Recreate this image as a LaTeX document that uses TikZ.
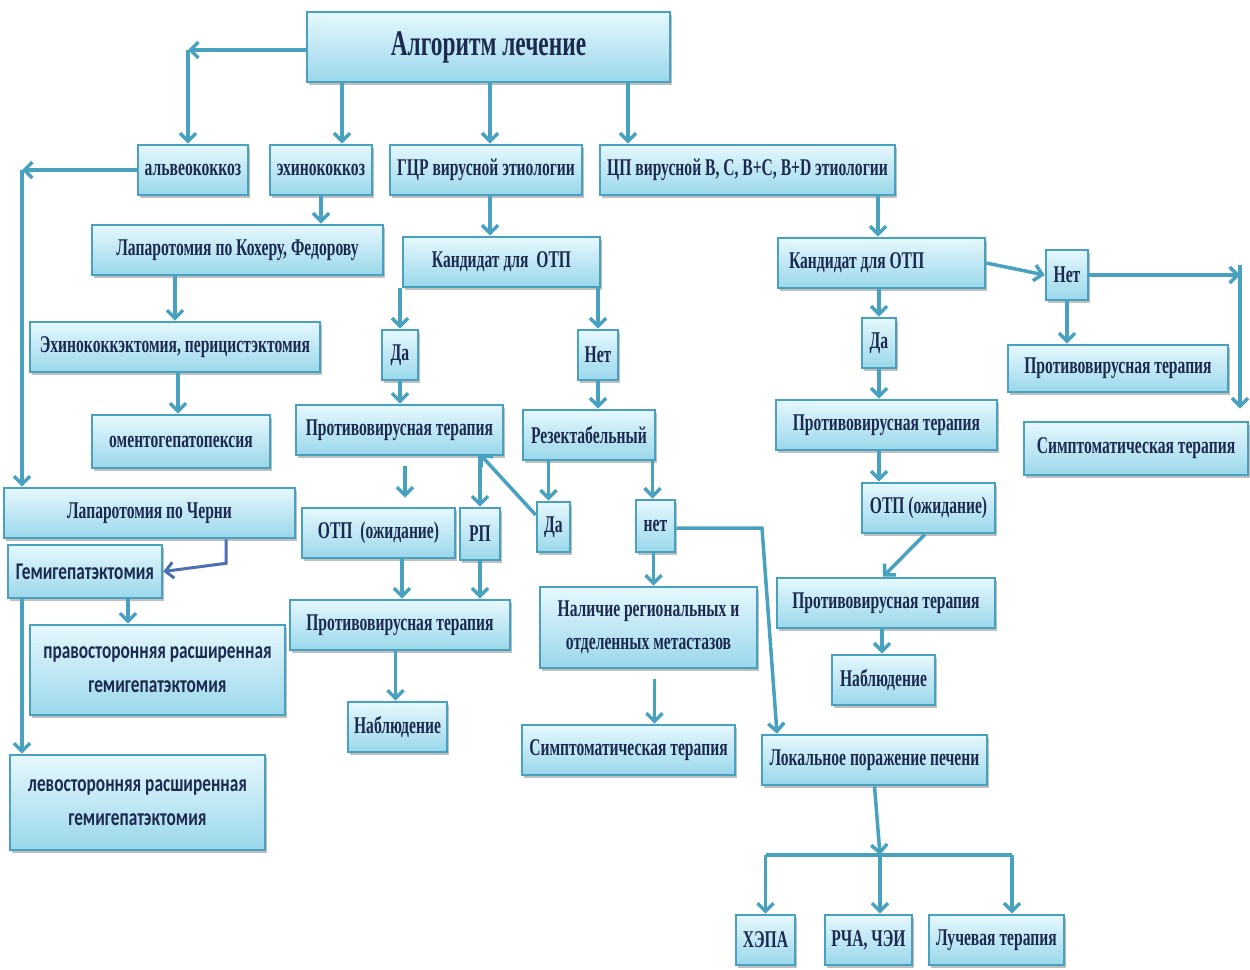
\documentclass[tikz,border=0pt]{standalone}
\usepackage{fontspec}
\setmainfont{Liberation Serif}
\newfontfamily\condserif[FakeStretch=0.65]{Liberation Serif}
\newfontfamily\condsans[FakeStretch=0.72]{Carlito}
\usetikzlibrary{arrows.meta,shadows,calc}
\definecolor{edgec}{HTML}{48A2BF}
\definecolor{filltop}{HTML}{E6F8FD}
\definecolor{fillbot}{HTML}{9AD7EB}
\definecolor{txtc}{HTML}{1C2A4F}
\definecolor{bluec}{HTML}{4C70B4}
\tikzset{
  box/.style={draw=edgec, line width=2.6pt, top color=filltop, bottom color=fillbot,
    drop shadow={shadow xshift=2pt, shadow yshift=-3pt, fill=black!55, opacity=0.45},
    text=txtc, font=\condserif\bfseries\fontsize{24}{33}\selectfont, inner sep=2pt, align=center},
  sbox/.style={box, font=\condsans\bfseries\fontsize{24}{34}\selectfont},
  arr/.style={draw=edgec, line width=3.5pt, -{Straight Barb[length=8pt,width=16pt]}},
  plain/.style={draw=edgec, line width=3.5pt},
  arrb/.style={arr, draw=bluec}
}
\begin{document}
\begin{tikzpicture}[x=1pt,y=-1pt]
\fill[white] (0,0) rectangle (1250,969);
\useasboundingbox (0,0) rectangle (1250,969);

% nodes
\node[box, minimum width=363pt, minimum height=70pt, font=\condserif\bfseries\fontsize{36}{40}\selectfont] (title) at (488.5,47) {Алгоритм лечение};
\node[box, minimum width=110pt, minimum height=50pt] (alv) at (193,170) {альвеококкоз};
\node[box, minimum width=102pt, minimum height=50pt] (ech) at (321,170) {эхинококкоз};
\node[box, minimum width=192pt, minimum height=50pt] (gcr) at (486,170) {ГЦР вирусной этиологии};
\node[box, minimum width=295pt, minimum height=50pt] (cp) at (747.5,170) {ЦП вирусной В, С, В+С, В+D этиологии};
\node[box, minimum width=291pt, minimum height=50pt] (koh) at (237.5,250) {Лапаротомия по Кохеру, Федорову};
\node[box, minimum width=197pt, minimum height=50pt] (kandL) at (501.5,262) {Кандидат для\ \ ОТП};
\node[box, minimum width=207pt, minimum height=50pt, text width=185pt, align=flush left, inner xsep=11pt] (kandR) at (881.5,263) {Кандидат для ОТП};
\node[box, minimum width=42pt, minimum height=50pt] (netR) at (1067,275) {Нет};
\node[box, minimum width=290pt, minimum height=50pt] (echek) at (175,347) {Эхинококкэктомия, перицистэктомия};
\node[box, minimum width=36pt, minimum height=50pt] (daL) at (400,355) {Да};
\node[box, minimum width=40pt, minimum height=50pt] (netL) at (598,355) {Нет};
\node[box, minimum width=34pt, minimum height=50pt] (daR) at (879,343) {Да};
\node[box, minimum width=220pt, minimum height=47pt] (pvtR1) at (1118,368.5) {Противовирусная терапия};
\node[box, minimum width=178pt, minimum height=53pt] (oment) at (181,441.5) {оментогепатопексия};
\node[box, minimum width=207pt, minimum height=50pt] (pvtL) at (399.5,430) {Противовирусная терапия};
\node[box, minimum width=132pt, minimum height=50pt] (rez) at (589,435) {Резектабельный};
\node[box, minimum width=221pt, minimum height=50pt] (pvtR2) at (886.5,425) {Противовирусная терапия};
\node[box, minimum width=224pt, minimum height=53pt] (symR) at (1136,448.5) {Симптоматическая терапия};
\node[box, minimum width=291pt, minimum height=50pt] (cherni) at (149.5,513) {Лапаротомия по Черни};
\node[sbox, minimum width=154pt, minimum height=53pt] (hemi) at (85,571.5) {Гемигепатэктомия};
\node[box, minimum width=153pt, minimum height=50pt] (otpL) at (378.5,533) {ОТП\ \ (ожидание)};
\node[box, minimum width=40pt, minimum height=52pt] (rp) at (480,534) {РП};
\node[box, minimum width=33pt, minimum height=50pt] (daM) at (553.5,527) {Да};
\node[box, minimum width=39pt, minimum height=52pt] (netM) at (655.5,526) {нет};
\node[box, minimum width=133pt, minimum height=50pt] (otpR) at (928.5,508) {ОТП (ожидание)};
\node[sbox, minimum width=255pt, minimum height=90pt] (prav) at (157.5,670) {правосторонняя расширенная\\гемигепатэктомия};
\node[box, minimum width=220pt, minimum height=50pt] (pvtM) at (400,625) {Противовирусная терапия};
\node[box, minimum width=217pt, minimum height=81pt] (nalich) at (648.5,627.5) {Наличие региональных и\\отделенных метастазов};
\node[box, minimum width=218pt, minimum height=50pt] (pvtR3) at (886,603) {Противовирусная терапия};
\node[box, minimum width=103pt, minimum height=50pt] (nablR) at (883.5,680) {Наблюдение};
\node[box, minimum width=99pt, minimum height=50pt] (nablM) at (397.5,727) {Наблюдение};
\node[box, minimum width=213pt, minimum height=50pt] (symM) at (628.5,750) {Симптоматическая терапия};
\node[box, minimum width=225pt, minimum height=50pt] (lok) at (874.5,760) {Локальное поражение печени};
\node[sbox, minimum width=255pt, minimum height=95pt] (lev) at (137.5,802.5) {левосторонняя расширенная\\гемигепатэктомия};
\node[box, minimum width=59pt, minimum height=50pt] (hepa) at (765.5,940) {ХЭПА};
\node[box, minimum width=87pt, minimum height=50pt] (rcha) at (868.5,940) {РЧА, ЧЭИ};
\node[box, minimum width=135pt, minimum height=50pt] (luch) at (996.5,940) {Лучевая терапия};

% corner coordinates
\coordinate (k1) at (188,50);
\coordinate (k2) at (22,170);
\coordinate (k3) at (762,528);
\coordinate (k4) at (1240,275);
\coordinate (k5) at (880,855);

% connectors
\draw[arr] ([yshift=-3pt]title.west) -- (k1);
\draw[arr] (k1) -- (k1 |- alv.north);
\draw[arr] ([xshift=-146.5pt]title.south) -- ([xshift=-146.5pt]title.south |- ech.north);
\draw[arr] ([xshift=1.5pt]title.south) -- ([xshift=1.5pt]title.south |- gcr.north);
\draw[arr] ([xshift=139.5pt]title.south) -- ([xshift=139.5pt]title.south |- cp.north);
\draw[arr] (alv.west) -- (k2);
\draw[arr] (k2) -- (k2 |- cherni.north);
\draw[arr] (ech.south) -- (ech.south |- koh.north);
\draw[arr] ([xshift=4pt]gcr.south) -- ([xshift=4pt]gcr.south |- kandL.north);
\draw[arr] ([xshift=130.5pt]cp.south) -- ([xshift=130.5pt]cp.south |- kandR.north);
\draw[arr] (echek.north |- koh.south) -- (echek.north);
\draw[arr] ([xshift=3pt]echek.south) -- ([xshift=3pt]echek.south |- oment.north);
\draw[arr] (daL.north |- kandL.south) -- (daL.north);
\draw[arr] (netL.north |- kandL.south) -- (netL.north);
\draw[arr] (daL.south) -- (daL.south |- pvtL.north);
\draw[arr] (netL.south) -- (netL.south |- rez.north);
\draw[arr, shorten <=10pt, shorten >=9pt] ([xshift=5.5pt]pvtL.south) -- ([xshift=5.5pt]pvtL.south |- otpL.north);
\draw[arr] (rp.north |- pvtL.south) -- (rp.north);
\draw[arr] ([yshift=12pt]daM.west) -- ([yshift=2pt]rp.north |- pvtL.south);
\draw[arr] ([xshift=-5pt]daM.north |- rez.south) -- ([xshift=-5pt]daM.north);
\draw[arr] ([xshift=-3pt]netM.north |- rez.south) -- ([xshift=-3pt]netM.north);
\draw[arr] (netM.east |- k3) -- (k3) -- ([xshift=-97.5pt]lok.north);
\draw[arr] ([xshift=-2pt]netM.south) -- ([xshift=-2pt]netM.south |- nalich.north);
\draw[arr, shorten <=10pt] ([xshift=6pt]nalich.south) -- ([xshift=6pt]nalich.south |- symM.north);
\draw[arr] ([xshift=23.5pt]otpL.south) -- ([xshift=23.5pt]otpL.south |- pvtM.north);
\draw[arr] (rp.south) -- (rp.south |- pvtM.north);
\draw[arr] ([xshift=-2pt]nablM.north |- pvtM.south) -- ([xshift=-2pt]nablM.north);
\draw[arrb, line width=3pt] ([xshift=76.5pt]cherni.south) -- ++(0,24) -- (hemi.east);
\draw[arr] ([xshift=43pt]hemi.south) -- ([xshift=43pt]hemi.south |- prav.north);
\draw[arr] (k2 |- hemi.south) -- (k2 |- lev.north);
\draw[arr] (kandR.east) -- (netR.west);
\draw[arr] (netR.east |- k4) -- (k4);
\draw[arr, shorten >=12pt] ([yshift=10pt]k4) -- (k4 |- symR.north);
\draw[arr] (netR.south) -- (netR.south |- pvtR1.north);
\draw[arr] (daR.north |- kandR.south) -- (daR.north);
\draw[arr] (daR.south) -- (daR.south |- pvtR2.north);
\draw[arr] (daR.south |- pvtR2.south) -- (daR.south |- otpR.north);
\draw[arr] ([xshift=-3.5pt]otpR.south) -- ([xshift=-3pt]pvtR3.north);
\draw[arr] ([xshift=-1.5pt]nablR.north |- pvtR3.south) -- ([xshift=-1.5pt]nablR.north);
\draw[arr] (lok.south) -- (k5);
\draw[plain] (hepa.north |- k5) -- ([xshift=15.5pt]luch.north |- k5);
\draw[arr] (hepa.north |- k5) -- (hepa.north);
\draw[arr] (k5) -- (k5 |- rcha.north);
\draw[arr] ([xshift=15.5pt]luch.north |- k5) -- ([xshift=15.5pt]luch.north);
\end{tikzpicture}
\end{document}
